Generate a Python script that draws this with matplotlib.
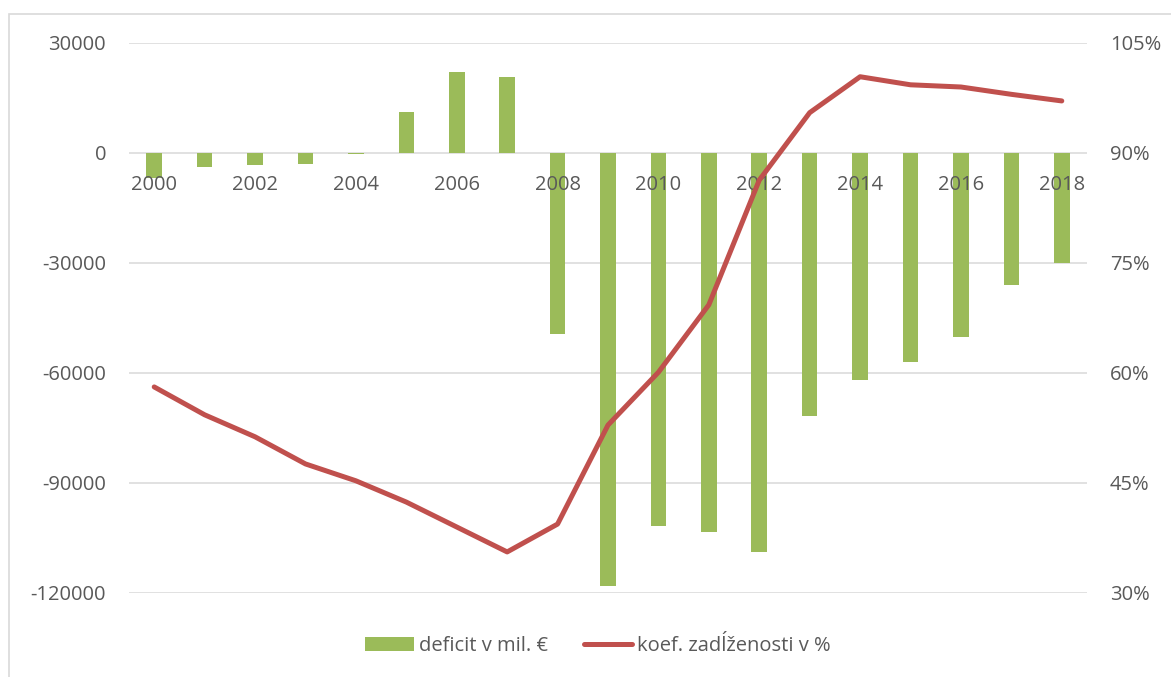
import matplotlib
matplotlib.use("Agg")
import matplotlib.pyplot as plt
from matplotlib.patches import Rectangle
from matplotlib.lines import Line2D
from matplotlib.patches import Patch
import numpy as np

plt.rcParams['font.family'] = ['Open Sans', 'DejaVu Sans']

years = list(range(2000, 2019))
deficit = [-6800, -3800, -3300, -3000, -300, 11200, 22100, 20700, -49400,
           -118100, -101700, -103400, -108800, -71700, -61900, -57000,
           -50200, -36000, -30000]
debt_ratio = [58.1, 54.3, 51.3, 47.6, 45.3, 42.4, 39.0, 35.6, 39.4, 52.9,
              60.1, 69.3, 86.3, 95.5, 100.4, 99.3, 99.0, 98.0, 97.1]
left_ticks = [30000, 0, -30000, -60000, -90000, -120000]
right_ticks = [105, 90, 75, 60, 45, 30]

bar_color = '#9BBB59'
line_color = '#C0504D'
text_color = '#595959'
grid_color = '#D9D9D9'
fs = 14.5

W, H = 1171, 677
fig = plt.figure(figsize=(W / 100, H / 100), dpi=100)
# light chart frame
fig.patches.append(Rectangle((9 / W, -0.5), 2.0, 1 - 14 / H + 0.5,
                             transform=fig.transFigure, fill=False,
                             edgecolor=grid_color, linewidth=1.2))

ax = fig.add_axes([129 / W, 1 - 593 / H, (1087 - 129) / W, (593 - 43) / H])
ax.set_axisbelow(False)
x = np.arange(len(years))
ax.bar(x, deficit, width=0.31, color=bar_color, zorder=2)
ax.set_xlim(-0.5, len(years) - 0.5)
ax.set_ylim(-120000, 30000)
ax.set_yticks(left_ticks)
ax.set_yticklabels([str(v) for v in left_ticks])
for v in left_ticks:
    ax.axhline(v, color=grid_color, linewidth=1.1, zorder=1)

for s in ['top', 'right', 'left']:
    ax.spines[s].set_visible(False)
ax.spines['bottom'].set_position(('data', 0))
ax.spines['bottom'].set_visible(False)
ax.set_xticks(x)
ax.set_xticklabels([str(y) if (y % 2 == 0) else '' for y in years])
ax.tick_params(axis='x', length=0, pad=16, labelsize=fs, labelcolor=text_color)
ax.tick_params(axis='y', length=0, pad=16.5, labelsize=fs, labelcolor=text_color)

ax2 = ax.twinx()
ax2.plot(x, debt_ratio, color=line_color, linewidth=3.6,
         solid_capstyle='round', solid_joinstyle='round')
ax2.set_ylim(30, 105)
ax2.set_yticks(right_ticks)
ax2.set_yticklabels([f'{v}%' for v in right_ticks])
ax2.tick_params(axis='y', length=0, pad=16.5, labelsize=fs, labelcolor=text_color)
for s in ['top', 'right', 'left', 'bottom']:
    ax2.spines[s].set_visible(False)

handles = [Patch(facecolor=bar_color, edgecolor='none'),
           Line2D([0], [0], color=line_color, linewidth=3.6,
                  solid_capstyle='round')]
labels = ['deficit v mil. €', 'koef. zadĺženosti v %']
fig.legend(handles, labels, loc='center', bbox_to_anchor=(598 / W, 1 - 646 / H),
           ncol=2, frameon=False, fontsize=fs, labelcolor=text_color,
           handlelength=2.4, handleheight=0.7, handletextpad=0.25,
           columnspacing=1.8)

fig.savefig('out.png', dpi=100)
